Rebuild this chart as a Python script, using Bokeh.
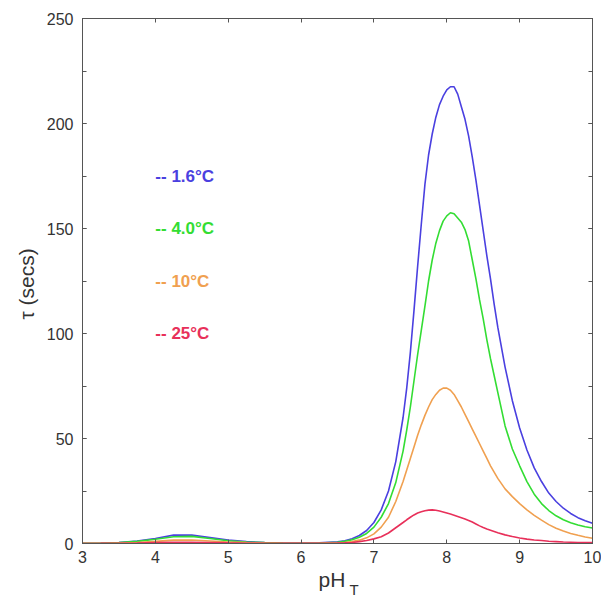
from bokeh.plotting import figure
from bokeh.models import (LinearAxis, SingleIntervalTicker, Title, ColumnDataSource,
                          CustomJSTickFormatter)
from bokeh.core.properties import value
from bokeh.embed import file_html
from bokeh.resources import INLINE

# pH values: coarse in the flat region, finer through the peaks
ph = [3.0, 3.25, 3.5, 3.75, 4.0, 4.25, 4.5, 4.75, 5.0, 5.25, 5.5, 5.75, 6.0, 6.25,
      6.5, 6.6, 6.7, 6.8, 6.9, 7.0, 7.1, 7.2, 7.3, 7.4, 7.45,
      7.5, 7.55, 7.6, 7.65, 7.7, 7.75, 7.8, 7.85, 7.9, 7.95,
      8.0, 8.05, 8.1, 8.15, 8.2, 8.25, 8.3, 8.35, 8.4, 8.45,
      8.5, 8.55, 8.6, 8.65, 8.7,
      8.8, 8.9, 9.0, 9.1, 9.2, 9.3, 9.4, 9.5, 9.6, 9.7, 9.8, 9.9, 10.0]

tau_1_6 = [0.1, 0.2, 0.5, 1.2, 2.4, 4.0, 4.0, 2.8, 1.6, 0.9, 0.5, 0.3, 0.2, 0.3,
           0.8, 1.3, 2.3, 3.8, 6.2, 10, 16, 25, 39, 60, 74,
           91, 111, 132, 152, 171, 185, 195, 203, 209, 213,
           216, 217.5, 217.5, 214, 208, 202, 194, 184, 173, 161,
           149, 137, 126, 114, 103,
           84, 68, 55, 44.5, 36, 29.5, 24, 20, 16.8, 14.3, 12.3, 10.8, 9.6]

tau_4_0 = [0.1, 0.15, 0.4, 1.0, 2.0, 3.2, 3.4, 2.4, 1.3, 0.7, 0.4, 0.25, 0.15, 0.2,
           0.6, 1.0, 1.8, 3.0, 4.8, 7.8, 12.5, 19, 29, 44, 54,
           65, 77.5, 90, 101.5, 113, 125, 135, 143, 149, 153.5,
           156, 157.5, 157, 155, 153, 149.5, 144, 135, 126, 116,
           107, 97, 88, 80, 72,
           56, 45, 37, 29.5, 23.5, 19, 15.7, 13.2, 11.3, 9.9, 8.8, 8.0, 7.4]

tau_10 = [0.05, 0.1, 0.2, 0.5, 1.0, 1.6, 1.7, 1.2, 0.7, 0.4, 0.2, 0.1, 0.1, 0.1,
          0.3, 0.5, 0.9, 1.6, 2.7, 4.6, 7.8, 12.5, 20, 29.5, 35,
          40.5, 46, 51.5, 56.5, 61, 65, 68.5, 71, 73, 74,
          74, 73, 71, 68, 65, 61.5, 58, 54.5, 51, 47.5,
          44, 40.5, 37, 34, 31,
          26, 22.3, 19, 16, 13.4, 11.1, 9.0, 7.3, 5.9, 4.8, 3.9, 3.1, 2.5]

tau_25 = [0.02, 0.05, 0.1, 0.2, 0.4, 0.6, 0.6, 0.5, 0.3, 0.15, 0.1, 0.05, 0.05, 0.1,
          0.2, 0.3, 0.5, 0.9, 1.4, 2.2, 3.2, 5.0, 7.5, 10, 11.3,
          12.5, 13.6, 14.5, 15.1, 15.6, 15.9, 16, 15.8, 15.5, 15.0,
          14.5, 14.0, 13.5, 12.9, 12.3, 11.7, 11.0, 10.2, 9.3, 8.4,
          7.6, 6.9, 6.3, 5.7, 5.1,
          4.1, 3.3, 2.6, 2.1, 1.7, 1.4, 1.1, 0.9, 0.7, 0.6, 0.5, 0.4, 0.4]

series_labels = ["1.6\u00b0C", "4.0\u00b0C", "10\u00b0C", "25\u00b0C"]
series_colors = ["#4a40e0", "#33dd33", "#f0a050", "#e8305a"]
series_values = [tau_1_6, tau_4_0, tau_10, tau_25]

FONT = "Liberation Sans"
AXIS_COLOR = "#555555"
TEXT_COLOR = "#333333"

p = figure(width=601, height=597, x_range=(3, 10), y_range=(0, 250),
           output_backend="svg", toolbar_location=None,
           min_border_left=82, min_border_right=9, min_border_top=18,
           min_border_bottom=54)
p.grid.visible = False
p.background_fill_color = "white"
p.border_fill_color = "white"
p.outline_line_color = AXIS_COLOR
p.outline_line_width = 1

xt = SingleIntervalTicker(interval=1, num_minor_ticks=0)
yt = SingleIntervalTicker(interval=50, num_minor_ticks=2)

def style_axis(ax):
    ax.axis_line_color = AXIS_COLOR
    ax.major_tick_line_color = AXIS_COLOR
    ax.minor_tick_line_color = AXIS_COLOR
    ax.major_tick_in = 4
    ax.major_tick_out = 0
    ax.minor_tick_in = 4
    ax.minor_tick_out = 0
    ax.major_label_text_font = FONT
    ax.major_label_text_font_size = "16px"
    ax.major_label_text_color = TEXT_COLOR

p.xaxis.ticker = xt
p.yaxis.ticker = yt
style_axis(p.xaxis[0])
style_axis(p.yaxis[0])
p.xaxis.minor_tick_line_color = None
p.xaxis.major_label_standoff = 7
p.yaxis.major_label_standoff = 9

p.yaxis.axis_label = "\u03c4  (secs)"
p.yaxis.axis_label_text_font = FONT
p.yaxis.axis_label_text_font_style = "normal"
p.yaxis.axis_label_text_font_size = "21px"
p.yaxis.axis_label_text_color = TEXT_COLOR
p.yaxis.axis_label_standoff = 6

blank = CustomJSTickFormatter(code="return ''")
top = LinearAxis(ticker=xt, formatter=blank)
style_axis(top)
top.minor_tick_line_color = None
top.major_label_standoff = 0
p.add_layout(top, "above")
right = LinearAxis(ticker=yt, formatter=blank)
style_axis(right)
right.major_label_standoff = 0
p.add_layout(right, "right")

for vals, col in zip(series_values, series_colors):
    p.line(ph, vals, line_color=col, line_width=1.6)

# legend as coloured text
leg_y = [175 - 25 * i for i in range(len(series_labels))]
leg_src = ColumnDataSource(dict(x=[4.0] * len(series_labels), y=leg_y,
                                text=["-- " + s for s in series_labels],
                                color=series_colors))
p.text(x="x", y="y", text="text", text_color="color", source=leg_src,
       text_font=value(FONT), text_font_size="17px", text_font_style="bold",
       text_baseline="middle", text_align="left")

# x axis title pH with subscript T
t1 = Title(text="pH", align="left", offset=236, standoff=0,
           text_font=FONT, text_font_size="21px", text_font_style="normal",
           text_color=TEXT_COLOR)
p.add_layout(t1, "below")
t2 = Title(text="T", align="left", offset=267, standoff=-19, vertical_align="top",
           text_font=FONT, text_font_size="15px", text_font_style="normal",
           text_color=TEXT_COLOR)
p.add_layout(t2, "below")

open("out.html", "w").write(file_html(p, INLINE))
